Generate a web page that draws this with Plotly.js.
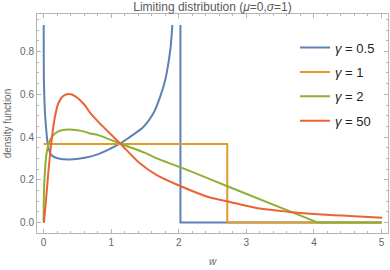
<!DOCTYPE html>
<html>
<head>
<meta charset="utf-8">
<script src="https://cdn.plot.ly/plotly-3.0.1.min.js"></script>
<style>html,body{margin:0;padding:0;background:#fff;}#chart{width:390px;height:270px;}</style>
</head>
<body>
<div id="chart"></div>
<script>
// ---- data ----
var gammaLabels = ['0.5', '1', '2', '50'];

// gamma = 0.5 (U-shaped part, clipped at top of plot range)
var blueW = [0.002, 0.005, 0.021, 0.044, 0.069, 0.118, 0.217, 0.39, 0.61, 0.81, 1.133, 1.28, 1.48, 1.625, 1.724, 1.80, 1.846, 1.88, 1.905];
var blueD = [0.924, 0.667, 0.511, 0.417, 0.354, 0.315, 0.300, 0.295, 0.303, 0.320, 0.370, 0.401, 0.448, 0.511, 0.588, 0.667, 0.745, 0.822, 0.924];
// gamma = 0.5 (drop and zero tail)
var blueStepW = [2.025, 2.025, 5.0];
var blueStepD = [0.924, 0, 0];

// gamma = 1
var orangeW = [0, 2.718, 2.718, 5.0];
var orangeD = [0.368, 0.368, 0, 0];

// gamma = 2 (curved part)
var greenW = [0, 0.006, 0.021, 0.044, 0.095, 0.168, 0.266, 0.39, 0.56, 0.69, 0.81, 1.133, 1.502, 1.675, 2.03, 2.462, 2.71, 4.06];
var greenD = [0, 0.151, 0.245, 0.323, 0.385, 0.417, 0.432, 0.436, 0.429, 0.417, 0.409, 0.370, 0.326, 0.300, 0.258, 0.203, 0.171, 0];
// gamma = 2 (zero tail)
var greenTailW = [4.06, 5.0];
var greenTailD = [0, 0];

// gamma = 50
var redW = [0.006, 0.044, 0.069, 0.118, 0.168, 0.217, 0.29, 0.375, 0.464, 0.61, 0.69, 0.81, 1.133, 1.428, 1.675, 2.03, 2.462, 2.71, 3.15, 3.64, 4.06, 4.53, 5.01];
var redD = [0, 0.136, 0.230, 0.385, 0.495, 0.557, 0.592, 0.601, 0.592, 0.549, 0.513, 0.471, 0.370, 0.276, 0.222, 0.170, 0.117, 0.100, 0.068, 0.050, 0.039, 0.031, 0.023];

var xTicks = [0, 1, 2, 3, 4, 5];
var yTicks = [0, 0.2, 0.4, 0.6, 0.8];
var yTickText = ['0.0', '0.2', '0.4', '0.6', '0.8'];

// ---- styling ----
var colors = ['#5E81B5', '#E19C24', '#8FB032', '#EB6235'];
var lw = 2;
var font = 'Liberation Sans, Arial, sans-serif';
var frame = '#b5b5b5';

function lbl(i) { return '<i>γ</i> = ' + gammaLabels[i]; }

var traces = [
  {x: blueW, y: blueD, mode: 'lines', line: {color: colors[0], width: lw, shape: 'spline', smoothing: 0.8}, name: lbl(0), legendgroup: 'g0'},
  {x: blueStepW, y: blueStepD, mode: 'lines', line: {color: colors[0], width: lw}, showlegend: false, legendgroup: 'g0'},
  {x: orangeW, y: orangeD, mode: 'lines', line: {color: colors[1], width: lw}, name: lbl(1), legendgroup: 'g1'},
  {x: greenW, y: greenD, mode: 'lines', line: {color: colors[2], width: lw, shape: 'spline', smoothing: 0.8}, name: lbl(2), legendgroup: 'g2'},
  {x: greenTailW, y: greenTailD, mode: 'lines', line: {color: colors[2], width: lw}, showlegend: false, legendgroup: 'g2'},
  {x: redW, y: redD, mode: 'lines', line: {color: colors[3], width: lw, shape: 'spline', smoothing: 0.8}, name: lbl(3), legendgroup: 'g3'}
];

var layout = {
  width: 390, height: 270,
  margin: {l: 37, r: 2, t: 14, b: 37, pad: 0},
  paper_bgcolor: '#fff', plot_bgcolor: '#fff',
  font: {family: font, color: '#666'},
  title: {
    text: 'Limiting distribution (<i>μ</i>=0,<i>σ</i>=1)',
    font: {size: 12, color: '#5a5a5a', family: font},
    x: 0.5, xref: 'paper', xanchor: 'center',
    y: 1 - 7 / 270, yref: 'container', yanchor: 'middle'
  },
  xaxis: {
    range: [-0.0975, 5.096],
    tickmode: 'array', tickvals: xTicks, ticktext: xTicks.map(String),
    ticks: 'inside', ticklen: 4, tickwidth: 1, tickcolor: frame,
    showline: true, linecolor: frame, linewidth: 1, mirror: 'ticks',
    showgrid: false, zeroline: false,
    tickfont: {size: 10, color: '#666'},
    minor: {tick0: 0, dtick: 0.2, ticks: 'inside', ticklen: 2, tickcolor: frame, showgrid: false},
    title: {text: '<i>w</i>', font: {size: 10, color: '#666'}, standoff: 10}
  },
  yaxis: {
    range: [-0.0487, 0.9757],
    tickmode: 'array', tickvals: yTicks, ticktext: yTickText,
    ticks: 'inside', ticklen: 4, tickwidth: 1, tickcolor: frame,
    showline: true, linecolor: frame, linewidth: 1, mirror: 'ticks',
    showgrid: false, zeroline: false,
    tickfont: {size: 10, color: '#666'},
    minor: {tick0: 0, dtick: 0.05, ticks: 'inside', ticklen: 2, tickcolor: frame, showgrid: false},
    title: {text: 'density function', font: {size: 10, color: '#666'}, standoff: 6}
  },
  showlegend: true,
  legend: {
    x: 0.735, xanchor: 'left', y: 0.915, yanchor: 'top',
    bgcolor: 'rgba(0,0,0,0)', borderwidth: 0,
    font: {size: 13, color: '#222', family: font},
    traceorder: 'grouped', tracegroupgap: 4.5
  }
};

Plotly.newPlot('chart', traces, layout, {staticPlot: true, displayModeBar: false});
</script>
</body>
</html>
